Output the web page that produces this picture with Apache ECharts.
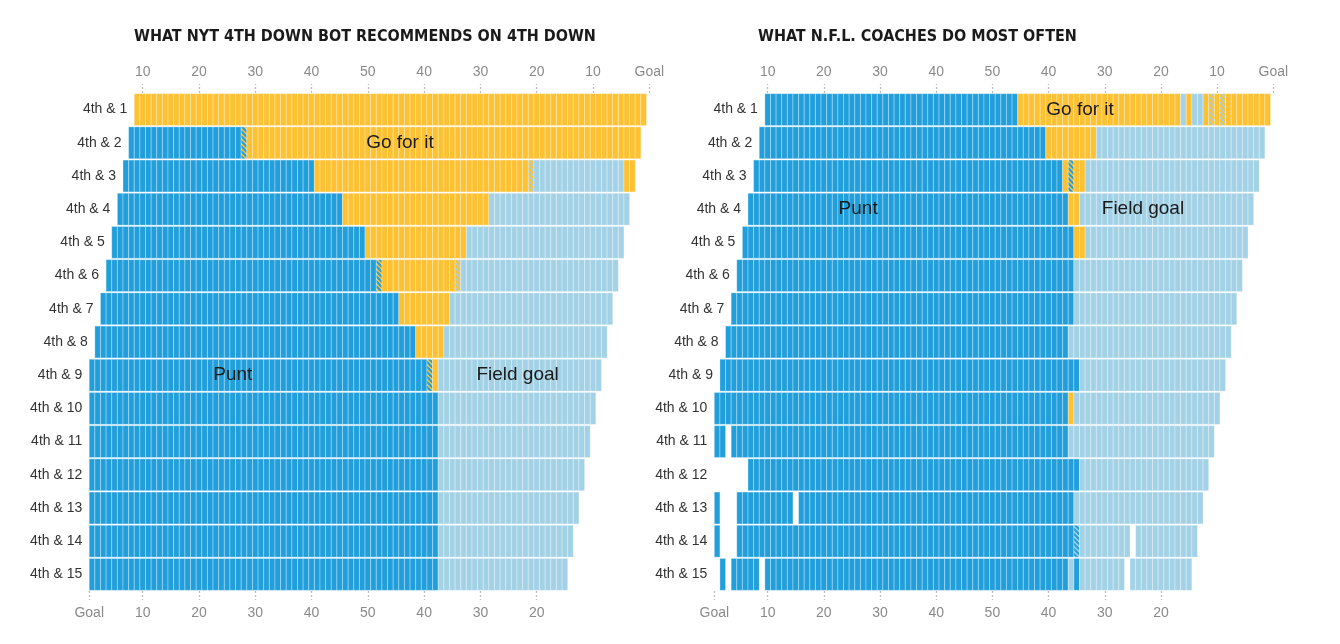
<!DOCTYPE html>
<html>
<head>
<meta charset="utf-8">
<script src="https://cdn.jsdelivr.net/npm/echarts@6/dist/echarts.min.js"></script>
<style>
  html, body { margin: 0; padding: 0; background: #fff; }
  #main { width: 1340px; height: 644px; }
</style>
</head>
<body>
<div id="main"></div>
<script>
var chart = echarts.init(document.getElementById('main'));

// 行标签：4th & 1 ... 4th & 15
var rowLabels = ['4th & 1', '4th & 2', '4th & 3', '4th & 4', '4th & 5', '4th & 6', '4th & 7', '4th & 8',
                 '4th & 9', '4th & 10', '4th & 11', '4th & 12', '4th & 13', '4th & 14', '4th & 15'];

// 每行起始码线（离己方底线的码数）
var botStart = [9, 8, 7, 6, 5, 4, 3, 2, 1, 1, 1, 1, 1, 1, 1];
var coachStart = [10, 9, 8, 7, 6, 5, 4, 3, 2, 1, 1, 1, 1, 1, 1];

// 每行按码数的连续段：P=弃踢 F=射门 G=进攻 x=弃踢/进攻 y=进攻/射门 z=弃踢/射门 -=无数据
var botRuns = [
  'G91',
  'P20 x1 G70',
  'P34 G38 y1 F16 G2',
  'P40 G26 F25',
  'P45 G18 F28',
  'P48 x1 G13 y1 F28',
  'P53 G9 F29',
  'P57 G5 F29',
  'P60 x1 G1 F29',
  'P62 F28',
  'P62 F27',
  'P62 F26',
  'P62 F25',
  'P62 F24',
  'P62 F23'
];
var coachRuns = [
  'P45 G29 F1 G1 F2 G1 y1 G1 y1 G8',
  'P51 G9 F30',
  'P55 G1 x1 G2 F31',
  'P57 G2 F31',
  'P59 G2 F29',
  'P60 F30',
  'P61 F29',
  'P61 F29',
  'P64 F26',
  'P63 G1 F26',
  'P2 -1 P60 F26',
  '-6 P59 F23',
  'P1 -3 P10 -1 P49 F23',
  'P1 -3 P60 z1 F9 -1 F11',
  '-1 P1 -1 P5 -1 P54 F1 P1 F8 -1 F11'
];

// 图中文字注释
var botNotes = ['Go for it', 'Punt', 'Field goal'];
var botNoteYard = [55.7, 26, 76.6];
var botNoteRow = [1, 8, 8];
var coachNotes = ['Go for it', 'Punt', 'Field goal'];
var coachNoteYard = [65.6, 26.1, 76.8];
var coachNoteRow = [0, 3, 3];

var titles = ['WHAT NYT 4TH DOWN BOT RECOMMENDS ON 4TH DOWN', 'WHAT N.F.L. COACHES DO MOST OFTEN'];

var blue = '#209fdc';
var lightBlue = '#a3d2e6';
var yellow = '#fdc131';

// 斜纹填充，用于两种选择差不多的码线
function stripes(c1, c2) {
  var cv = document.createElement('canvas');
  cv.width = 5; cv.height = 5;
  var ctx = cv.getContext('2d');
  ctx.fillStyle = c1;
  ctx.fillRect(0, 0, 5, 5);
  ctx.strokeStyle = c2;
  ctx.lineWidth = 2;
  ctx.beginPath();
  ctx.moveTo(-1, -1); ctx.lineTo(6, 6);
  ctx.moveTo(-1, 4); ctx.lineTo(1, 6);
  ctx.moveTo(4, -1); ctx.lineTo(6, 1);
  ctx.stroke();
  return { image: cv, repeat: 'repeat' };
}

var fills = {
  P: blue,
  F: lightBlue,
  G: yellow,
  x: stripes(yellow, blue),
  y: stripes(lightBlue, yellow),
  z: stripes(lightBlue, blue)
};
var codeList = ['P', 'F', 'G', 'x', 'y', 'z'];

// 把连续段展开成 [码线, 行, 类型]
function buildCells(starts, runs) {
  var cells = [];
  for (var r = 0; r < runs.length; r++) {
    var yard = starts[r];
    var parts = runs[r].split(' ');
    for (var k = 0; k < parts.length; k++) {
      var code = parts[k].charAt(0);
      var n = parseInt(parts[k].slice(1));
      for (var j = 0; j < n; j++) {
        if (code != '-') cells.push([yard, r, codeList.indexOf(code)]);
        yard++;
      }
    }
  }
  return cells;
}

function renderCell(params, api) {
  var p0 = api.coord([api.value(0) - 0.5, api.value(1)]);
  var p1 = api.coord([api.value(0) + 0.5, api.value(1)]);
  var h = api.size([0, 1])[1] * 0.96;
  return {
    type: 'rect',
    shape: { x: p0[0], y: p0[1] - h / 2, width: p1[0] - p0[0], height: h },
    style: { fill: fills[codeList[api.value(2)]], stroke: 'rgba(255,255,255,0.3)', lineWidth: 1 }
  };
}

function rowLabelData(starts) {
  var d = [];
  for (var i = 0; i < starts.length; i++) d.push([starts[i], i]);
  return d;
}

function renderRowLabel(params, api) {
  var p = api.coord([api.value(0) - 0.5, api.value(1)]);
  return {
    type: 'text',
    x: p[0] - 7,
    y: p[1],
    style: {
      text: rowLabels[params.dataIndex],
      align: 'right',
      verticalAlign: 'middle',
      fill: '#333',
      fontSize: 14,
      fontFamily: 'Liberation Sans, Arial, sans-serif'
    }
  };
}

function noteData(yards, rows) {
  var d = [];
  for (var i = 0; i < yards.length; i++) d.push([yards[i], rows[i]]);
  return d;
}

function noteRenderer(texts) {
  return function (params, api) {
    var p = api.coord([api.value(0), api.value(1)]);
    return {
      type: 'text',
      x: p[0],
      y: p[1],
      z2: 10,
      style: {
        text: texts[params.dataIndex],
        align: 'center',
        verticalAlign: 'middle',
        fill: '#1a1a1a',
        fontSize: 19,
        fontFamily: 'Liberation Sans, Arial, sans-serif'
      }
    };
  };
}

function yardLabel(v) {
  if (v < 1 || v > 99) return 'Goal';
  return v <= 50 ? v + '' : (100 - v) + '';
}

var topValues = [10, 20, 30, 40, 50, 60, 70, 80, 90, 100];
var bottomValues = [0.5, 10, 20, 30, 40, 50, 60, 70, 80];

function makeXAxis(gridIndex, position, values) {
  return {
    type: 'value',
    gridIndex: gridIndex,
    position: position,
    min: 0,
    max: 100,
    axisLine: { show: false },
    splitLine: { show: false },
    axisTick: {
      show: true,
      length: 9,
      customValues: values,
      lineStyle: { color: '#bdbdbd', type: [2, 2], width: 1.3 }
    },
    axisLabel: {
      show: true,
      customValues: values,
      margin: position == 'top' ? 14 : 15,
      color: '#8a8a8a',
      fontSize: 14,
      fontFamily: 'Liberation Sans, Arial, sans-serif',
      formatter: yardLabel
    }
  };
}

function makeYAxis(gridIndex) {
  return {
    type: 'category',
    gridIndex: gridIndex,
    data: rowLabels,
    inverse: true,
    axisLine: { show: false },
    axisTick: { show: false },
    axisLabel: { show: false },
    splitLine: { show: false }
  };
}

var titleStyle = {
  color: '#1a1a1a',
  fontSize: 16,
  fontWeight: 'bold',
  fontFamily: 'Liberation Sans Narrow, DejaVu Sans Condensed, sans-serif'
};

var option = {
  animation: false,
  backgroundColor: '#fff',
  title: [
    { text: titles[0], left: 129, top: 24, textStyle: titleStyle },
    { text: titles[1], left: 753, top: 24, textStyle: titleStyle }
  ],
  grid: [
    { left: 86.4, width: 562.9, top: 93, height: 498 },
    { left: 711.5, width: 561.8, top: 93, height: 498 }
  ],
  xAxis: [
    makeXAxis(0, 'top', topValues),
    makeXAxis(0, 'bottom', bottomValues),
    makeXAxis(1, 'top', topValues),
    makeXAxis(1, 'bottom', bottomValues)
  ],
  yAxis: [makeYAxis(0), makeYAxis(1)],
  series: [
    { type: 'custom', xAxisIndex: 1, yAxisIndex: 0, renderItem: renderCell, data: buildCells(botStart, botRuns) },
    { type: 'custom', xAxisIndex: 3, yAxisIndex: 1, renderItem: renderCell, data: buildCells(coachStart, coachRuns) },
    { type: 'custom', xAxisIndex: 1, yAxisIndex: 0, renderItem: renderRowLabel, data: rowLabelData(botStart) },
    { type: 'custom', xAxisIndex: 3, yAxisIndex: 1, renderItem: renderRowLabel, data: rowLabelData(coachStart) },
    { type: 'custom', xAxisIndex: 1, yAxisIndex: 0, z: 5, renderItem: noteRenderer(botNotes), data: noteData(botNoteYard, botNoteRow) },
    { type: 'custom', xAxisIndex: 3, yAxisIndex: 1, z: 5, renderItem: noteRenderer(coachNotes), data: noteData(coachNoteYard, coachNoteRow) }
  ]
};

chart.setOption(option);
</script>
</body>
</html>
